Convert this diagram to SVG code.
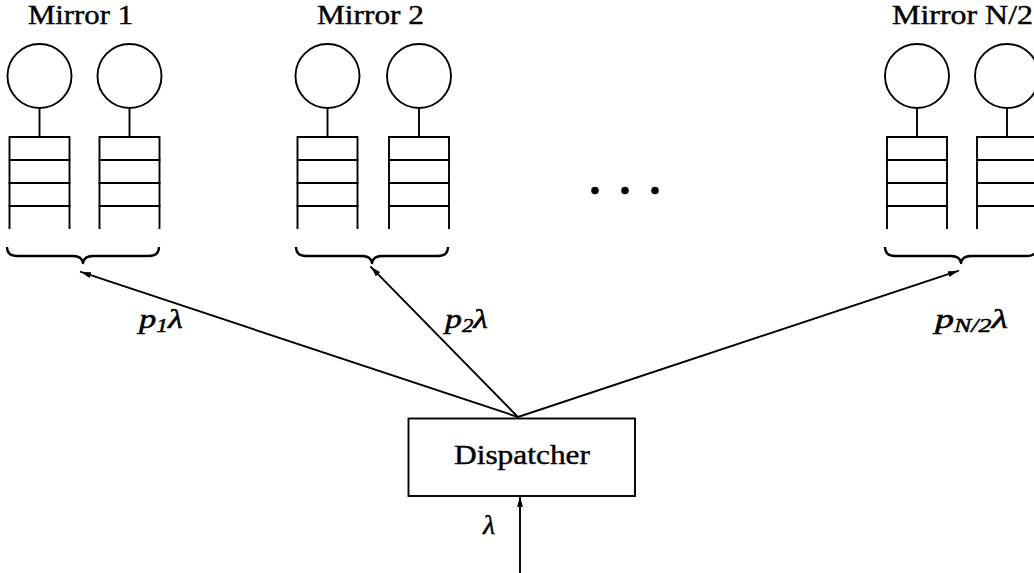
<svg xmlns="http://www.w3.org/2000/svg" width="1034" height="573" viewBox="0 0 1034 573">
  <style>
    .ln { fill: none; stroke: #000; stroke-width: 1.9; stroke-linecap: square; }
    .srv { fill: #fff; stroke: #000; stroke-width: 1.9; }
    .brace { fill: none; stroke: #000; stroke-width: 2.3; stroke-linejoin: round; }
    .title { font-family: "Liberation Serif", "Times New Roman", serif; font-size: 27px; fill: #000; stroke: #000; stroke-width: 0.4; }
    .math { font-family: "Liberation Serif", "Times New Roman", serif; font-style: italic; font-size: 28px; fill: #000; stroke: #000; stroke-width: 0.5; }
    .sub { font-size: 19px; }
  </style>
  <defs>
    <marker id="arrow" viewBox="0 0 10 6" refX="10" refY="3" markerWidth="10" markerHeight="6" markerUnits="userSpaceOnUse" orient="auto">
      <path d="M0,0 L10,3 L0,6 Z" fill="#000"/>
    </marker>
    <!-- one server: circle, stem, and an open-bottomed queue of three slots -->
    <g id="server">
      <circle class="srv" cx="0" cy="76" r="32"/>
      <line class="ln" x1="0" y1="108" x2="0" y2="137"/>
      <path class="ln" d="M-30,228 V137 H30 V228"/>
      <line class="ln" x1="-30" y1="160" x2="30" y2="160"/>
      <line class="ln" x1="-30" y1="183" x2="30" y2="183"/>
      <line class="ln" x1="-30" y1="206" x2="30" y2="206"/>
    </g>
    <!-- curly brace under a mirror pair, tip at x=0 -->
    <path id="brace" class="brace" d="M-76,247 Q-76,256 -66,256 L-10,256 Q-1,256 0,263 Q1,256 10,256 L66,256 Q76,256 76,247"/>
  </defs>

  <g id="mirror-1">
    <text class="title" x="28" y="24" textLength="105" lengthAdjust="spacingAndGlyphs">Mirror 1</text>
    <use href="#server" x="39.5"/>
    <use href="#server" x="129.5"/>
    <use href="#brace" x="83"/>
  </g>

  <g id="mirror-2">
    <text class="title" x="317" y="24" textLength="107" lengthAdjust="spacingAndGlyphs">Mirror 2</text>
    <use href="#server" x="327.5"/>
    <use href="#server" x="419"/>
    <use href="#brace" x="372"/>
  </g>

  <g id="ellipsis">
    <circle cx="595" cy="190.5" r="3.8"/>
    <circle cx="625" cy="190.5" r="3.8"/>
    <circle cx="655" cy="190.5" r="3.8"/>
  </g>

  <g id="mirror-n2">
    <text class="title" x="892" y="24" textLength="141" lengthAdjust="spacingAndGlyphs">Mirror N/2</text>
    <use href="#server" x="917"/>
    <use href="#server" x="1007"/>
    <use href="#brace" x="961"/>
  </g>

  <g id="dispatcher">
    <rect x="408.5" y="418.5" width="226.5" height="77.5" fill="#fff" stroke="#000" stroke-width="1.9"/>
    <text class="title" x="454" y="464" font-size="25" textLength="136" lengthAdjust="spacingAndGlyphs">Dispatcher</text>
  </g>

  <g id="connectors">
    <line class="ln" x1="518" y1="417" x2="81" y2="272" marker-end="url(#arrow)"/>
    <line class="ln" x1="518" y1="417" x2="371" y2="267" marker-end="url(#arrow)"/>
    <line class="ln" x1="518" y1="417" x2="958" y2="271" marker-end="url(#arrow)"/>
    <line class="ln" x1="520" y1="573" x2="520" y2="497" marker-end="url(#arrow)"/>
  </g>

  <g id="labels">
    <text class="math" x="139" y="328" textLength="44" lengthAdjust="spacingAndGlyphs">p<tspan class="sub" dy="4">1</tspan><tspan dy="-4">λ</tspan></text>
    <text class="math" x="445" y="328" textLength="43" lengthAdjust="spacingAndGlyphs">p<tspan class="sub" dy="4">2</tspan><tspan dy="-4">λ</tspan></text>
    <text class="math" x="935" y="328" textLength="73" lengthAdjust="spacingAndGlyphs">p<tspan class="sub" dy="4">N/2</tspan><tspan dy="-4">λ</tspan></text>
    <text class="math" x="483" y="534">λ</text>
  </g>
</svg>
